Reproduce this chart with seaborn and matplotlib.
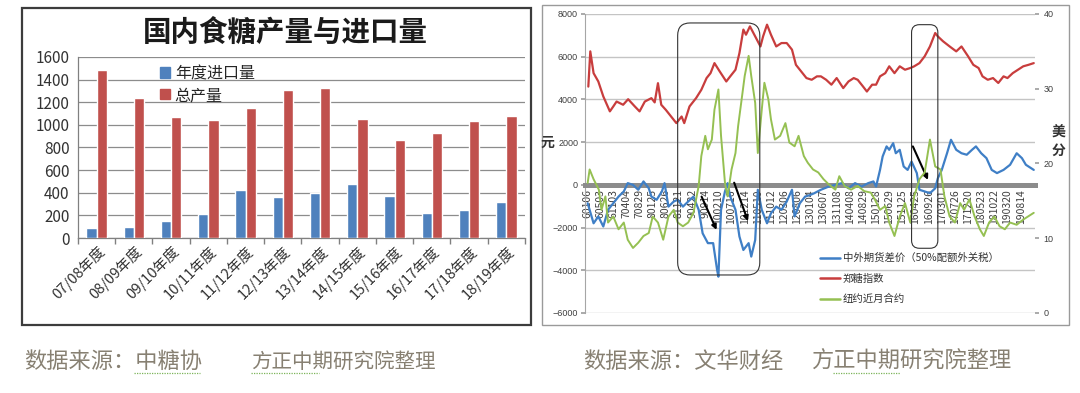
import numpy as np
import pandas as pd
import matplotlib
matplotlib.use('Agg')
import matplotlib.pyplot as plt
import seaborn as sns
from matplotlib.patches import Patch, Rectangle, FancyBboxPatch
from matplotlib.lines import Line2D

# ---- 左图：国内食糖产量与进口量 ----
seasons = ['07/08年度', '08/09年度', '09/10年度', '10/11年度', '11/12年度', '12/13年度',
           '13/14年度', '14/15年度', '15/16年度', '16/17年度', '17/18年度', '18/19年度']
imports = [90, 100, 150, 210, 425, 360, 400, 475, 370, 225, 245, 320]
output = [1485, 1240, 1070, 1045, 1145, 1305, 1330, 1055, 870, 930, 1030, 1075]

# ---- 右图：中外期货差价 / 郑糖指数 / 纽约近月合约 ----
date_labels = ['60106', '60503', '61103', '70404', '70829', '80125', '80626', '81121',
               '90422', '90914', '100210', '100716', '101214', '110510', '111012', '120306',
               '120806', '130104', '130607', '131108', '140408', '140829', '150128', '150629',
               '151125', '160425', '160926', '170301', '170726', '171220', '180523', '181022',
               '190320', '190814']

# 交易日序号（每个日期标签间隔100个交易日）
spread_t = [5, 50, 86, 124, 160, 200, 240, 280, 310, 350, 390, 430, 470, 490, 530, 570, 590,
            620, 660, 690, 730, 770, 810, 850, 880, 920, 960, 990, 1000, 1020, 1050, 1070, 1090,
            1130, 1160, 1190, 1230, 1250, 1280, 1300, 1330, 1370, 1400, 1440, 1480, 1520, 1560,
            1580, 1620, 1660, 1700, 1730, 1780, 1840, 1890, 1940, 1990, 2040, 2090, 2140, 2180,
            2200, 2230, 2250, 2280, 2300, 2330, 2350, 2380, 2410, 2440, 2470, 2510, 2530, 2570,
            2610, 2650, 2670, 2700, 2740, 2770, 2810, 2850, 2890, 2930, 2960, 3000, 3040, 3080,
            3120, 3170, 3220, 3270, 3310, 3340, 3400]
spread_v = [-860, -1800, -1480, -1950, -1170, -860, -550, -310, 80, 0, -230, 160, -160, -550,
            -700, -310, 80, -1020, -780, -700, -1020, -780, -550, -1170, -2270, -2730, -2730,
            -3980, -4300, -1170, -310, 80, -550, -1170, -2420, -3050, -2730, -3360, -2580, -230,
            -1170, -1800, -1330, -1020, -1170, -780, -230, -1480, -860, -550, -470, -390, -230,
            -80, 0, 80, -160, 80, -80, 80, 160, -80, 700, 1330, 1800, 1640, 1950, 1480, 1640,
            860, 700, 1090, 550, -230, -310, -390, -160, 310, 700, 1480, 2110, 1640, 1480, 1410,
            1640, 1800, 1480, 1250, 700, 550, 700, 940, 1480, 1250, 940, 700]

zhengtang_t = [10, 25, 50, 86, 124, 174, 200, 225, 275, 313, 364, 400, 440, 490, 515, 540, 565,
               600, 640, 680, 720, 740, 780, 830, 870, 910, 940, 970, 1010, 1060, 1090, 1130,
               1160, 1190, 1210, 1240, 1280, 1320, 1340, 1370, 1400, 1440, 1480, 1520, 1560,
               1590, 1630, 1670, 1710, 1750, 1780, 1820, 1860, 1900, 1950, 1990, 2030, 2060,
               2100, 2130, 2170, 2200, 2230, 2270, 2300, 2340, 2380, 2420, 2460, 2490, 2530,
               2570, 2610, 2650, 2670, 2710, 2760, 2810, 2850, 2900, 2940, 2980, 3010, 3050,
               3090, 3130, 3170, 3200, 3240, 3280, 3320, 3360, 3400]
zhengtang_v = [4600, 6250, 5230, 4840, 4140, 3440, 3670, 3900, 3750, 4010, 3670, 3440, 3900,
               4060, 3860, 4760, 3750, 3510, 3200, 2890, 3200, 2890, 3670, 4060, 4450, 5000,
               5230, 5700, 5310, 4840, 5080, 5390, 6170, 7270, 7030, 7420, 6950, 6480, 6950,
               7500, 7030, 6480, 6640, 6640, 6330, 5620, 5310, 5000, 4920, 5080, 5080, 4920,
               4690, 5000, 4530, 4840, 5000, 4920, 4610, 4370, 4690, 4690, 5080, 5230, 5550,
               5230, 5550, 5390, 5470, 5550, 5700, 6020, 6480, 7110, 6950, 6720, 6480, 6250,
               6480, 6020, 5620, 5470, 5080, 4920, 5000, 4770, 5080, 5000, 5230, 5390, 5550,
               5620, 5700]

newyork_t = [5, 20, 50, 90, 110, 140, 160, 200, 240, 280, 310, 350, 390, 430, 470, 500, 540,
             580, 620, 660, 690, 730, 770, 810, 850, 870, 900, 920, 950, 970, 1000, 1020, 1050,
             1070, 1100, 1130, 1150, 1180, 1200, 1230, 1250, 1280, 1300, 1330, 1350, 1380, 1400,
             1430, 1470, 1510, 1540, 1580, 1610, 1650, 1680, 1720, 1760, 1800, 1840, 1890, 1920,
             1960, 2010, 2060, 2110, 2160, 2190, 2230, 2270, 2300, 2340, 2380, 2420, 2460, 2490,
             2530, 2570, 2610, 2650, 2690, 2720, 2760, 2800, 2840, 2870, 2910, 2950, 2990, 3020,
             3060, 3100, 3140, 3180, 3220, 3270, 3320, 3400]
newyork_v = [17.4, 19.2, 17.9, 16.5, 13.8, 15.6, 12.1, 12.9, 11.2, 12.1, 9.8, 8.7, 9.4, 10.3,
             10.7, 12.9, 12.1, 9.8, 12.9, 13.8, 12.1, 11.6, 12.1, 13.4, 17.0, 21.0, 23.7, 21.9,
             23.2, 27.2, 29.9, 23.7, 17.4, 15.6, 19.2, 21.4, 25.0, 29.0, 31.7, 34.4, 31.7, 28.1,
             21.4, 27.2, 30.8, 28.6, 25.9, 23.2, 23.7, 25.4, 22.8, 22.3, 23.7, 21.0, 20.1, 19.2,
             18.8, 17.9, 17.2, 16.5, 18.3, 17.0, 16.5, 17.0, 16.3, 16.1, 15.2, 13.8, 14.3, 12.1,
             10.3, 12.9, 14.7, 12.1, 15.6, 17.9, 18.8, 23.2, 19.6, 19.2, 15.6, 12.9, 12.1, 14.7,
             13.8, 15.2, 12.9, 11.2, 10.3, 12.1, 12.9, 11.6, 11.2, 12.1, 11.8, 12.5, 13.4]

c_imp = '#4f81bd'
c_out = '#c0504d'
c_spread = '#3f7fc6'
c_zheng = '#c83d3d'
c_ny = '#95c052'

sns.set_theme(style='white')
plt.rcParams['font.family'] = ['Noto Sans CJK SC', 'DejaVu Sans']

fig = plt.figure(figsize=(10.8, 3.93), dpi=100)
fig.patch.set_facecolor('white')

# ---------- 左图 ----------
ax1 = fig.add_axes([0.0722, 0.3944, 0.4139, 0.4606])
bars = pd.DataFrame({
    'season': seasons * 2,
    'series': ['年度进口量'] * len(seasons) + ['总产量'] * len(seasons),
    'value': imports + output,
})
sns.barplot(data=bars, x='season', y='value', hue='series', palette=[c_imp, c_out],
            width=0.55, saturation=1, legend=False, ax=ax1, zorder=3)
ax1.set_ylim(0, 1600)
ax1.set_yticks(range(0, 1601, 200))
ax1.set_xlim(-0.5, len(seasons) - 0.5)
ax1.yaxis.grid(True, color='#8c8c8c', lw=0.9)
ax1.set_axisbelow(True)
ax1.set_xlabel('')
ax1.set_ylabel('')
for s in ['top', 'right']:
    ax1.spines[s].set_visible(False)
for s in ['left', 'bottom']:
    ax1.spines[s].set_color('#808080')
    ax1.spines[s].set_linewidth(0.9)
ax1.tick_params(axis='y', labelsize=11, colors='#333333', length=4, color='#808080', pad=2)
ax1.tick_params(axis='x', which='major', length=0, labelsize=10.5, labelcolor='#333333', pad=4)
ax1.set_xticks(np.arange(-0.5, len(seasons), 1), minor=True)
ax1.tick_params(axis='x', which='minor', length=4, color='#808080', bottom=True)
plt.setp(ax1.get_xticklabels(), rotation=45, ha='right', rotation_mode='anchor')
ax1.legend(handles=[Patch(color=c_imp), Patch(color=c_out)], labels=['年度进口量', '总产量'],
           loc='upper left', bbox_to_anchor=(0.17, 0.99), frameon=False, fontsize=11.5,
           handlelength=0.6, handleheight=0.6, handletextpad=0.3, labelspacing=0.3,
           borderaxespad=0)
fig.text(0.264, 0.916, '国内食糖产量与进口量', ha='center', va='center', fontsize=20.5,
         fontweight='bold', color='#1a1a1a')

# ---------- 右图 ----------
ax2 = fig.add_axes([0.5417, 0.2036, 0.4167, 0.7608])
sns.lineplot(x=spread_t, y=spread_v, ax=ax2, color=c_spread, lw=1.6,
             estimator=None, sort=False, zorder=3)
sns.lineplot(x=zhengtang_t, y=zhengtang_v, ax=ax2, color=c_zheng, lw=1.6,
             estimator=None, sort=False, zorder=3)

ax3 = ax2.twinx()
sns.lineplot(x=newyork_t, y=newyork_v, ax=ax3, color=c_ny, lw=1.4, estimator=None, sort=False)
ax3.set_ylim(0, 40)
ax3.set_yticks(range(0, 41, 10))
ax3.set_ylabel('')
for s in ax3.spines.values():
    s.set_visible(False)
ax3.tick_params(axis='y', labelsize=6.5, colors='#404040', length=3, color='#a0a0a0', pad=3)
for lab in ax3.get_yticklabels():
    lab.set_family('Liberation Sans')

ax2.set_xlim(-15, 3410)
ax2.set_ylim(-6000, 8000)
ax2.set_yticks(range(-6000, 8001, 2000))
ax2.yaxis.grid(True, color='#c4c4c4', lw=1.0)
ax2.set_axisbelow(True)
ax2.set_xticks(np.arange(len(date_labels)) * 100)
ax2.set_xticklabels(date_labels)
ax2.tick_params(axis='x', length=0, pad=3, labelrotation=90, labelsize=7.5, labelcolor='#404040')
for lab in ax2.get_xticklabels():
    lab.set_family('DejaVu Sans')
    lab.set_rotation(90)
    lab.set_va('top')
    lab.set_ha('center')
ax2.tick_params(axis='y', labelsize=6.5, colors='#404040', length=3, color='#a0a0a0', pad=2)
for lab in ax2.get_yticklabels():
    lab.set_family('Liberation Sans')
ax2.set_xlabel('')
ax2.set_ylabel('')
ax2.spines['top'].set_visible(False)
ax2.spines['right'].set_visible(False)
ax2.spines['left'].set_color('#a6a6a6')
ax2.spines['left'].set_linewidth(0.8)
ax2.spines['bottom'].set_position(('data', 0))
ax2.spines['bottom'].set_color('#8c8c8c')
ax2.spines['bottom'].set_linewidth(3.6)

# 圆角框和箭头
for x0, y0, w, h, r in [(690, -4220, 625, 11800, 95), (2470, -2970, 200, 10470, 60)]:
    ax3.add_patch(FancyBboxPatch((x0, y0), w, h, boxstyle=f'round,pad=0,rounding_size={r}',
                                 mutation_aspect=6.15, transform=ax2.transData, fill=False,
                                 ec='#333333', lw=0.8, zorder=5))
for (x0, y0), (x1, y1) in [((872, -550), (986, -2110)), ((1120, 100), (1225, -1700)),
                           ((2480, 1800), (2595, 230))]:
    ax2.annotate('', xy=(x1, y1), xytext=(x0, y0),
                 arrowprops=dict(arrowstyle='-|>', color='black', lw=1.5, mutation_scale=7,
                                 shrinkA=0, shrinkB=0), zorder=6)

ax3.legend(handles=[Line2D([], [], color=c_spread, lw=1.8), Line2D([], [], color=c_zheng, lw=1.8),
                    Line2D([], [], color=c_ny, lw=1.8)],
           labels=['中外期货差价（50%配额外关税）', '郑糖指数', '纽约近月合约'],
           loc='upper left', bbox_to_anchor=(0.513, 0.215), frameon=False, fontsize=7.5,
           handlelength=1.9, handletextpad=0.3, labelspacing=1.0, borderaxespad=0,
           labelcolor='#333333')

fig.text(0.507, 0.636, '元', ha='center', va='center', fontsize=10, fontweight='bold', color='#333333')
fig.text(0.980, 0.640, '美\n分', ha='center', va='center', fontsize=10, fontweight='bold',
         color='#333333', linespacing=1.4)

# 面板边框
fig.add_artist(Rectangle((0.0204, 0.173), 0.471, 0.807, transform=fig.transFigure,
                         fill=False, ec='#3c3c3c', lw=1.6))
fig.add_artist(Rectangle((0.502, 0.173), 0.488, 0.814, transform=fig.transFigure,
                         fill=False, ec='#9a9a9a', lw=1.0))

# 数据来源
cap_color = '#878072'
for x, s, fs in [(24, '数据来源：中糖协', 16), (251, '方正中期研究院整理', 14.8),
                 (583, '数据来源：文华财经', 16), (812, '方正中期研究院整理', 16)]:
    fig.text(x / 1080, 0.080, s, ha='left', va='center', fontsize=fs, color=cap_color)
for x0, x1 in [(134, 200), (251, 319), (833, 900)]:
    fig.add_artist(Line2D([x0 / 1080, x1 / 1080], [0.050, 0.050], transform=fig.transFigure,
                          color='#7cb45a', lw=0.9, ls=(0, (1, 1))))

fig.savefig('out.png', dpi=100, facecolor='white')
